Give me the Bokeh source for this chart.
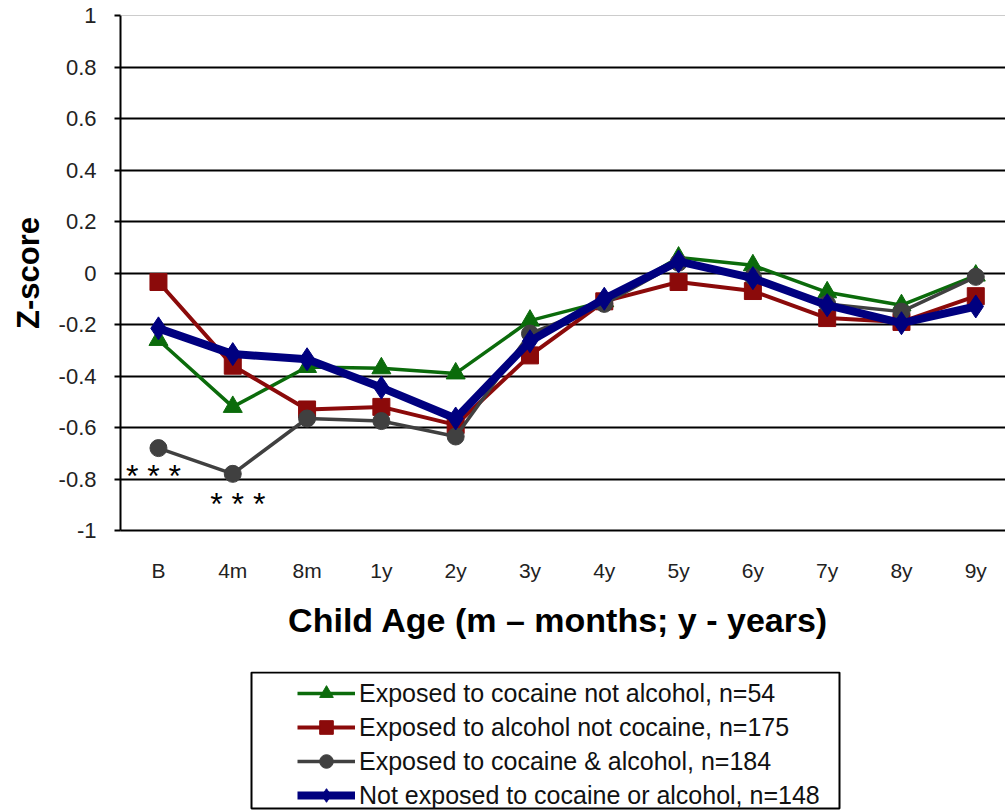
from bokeh.plotting import figure
from bokeh.layouts import column
from bokeh.models import (Range1d, FixedTicker, CustomJSTickFormatter, Legend, LegendItem,
                          Span, ColumnDataSource, BoxAnnotation)
from bokeh.core.properties import value
from bokeh.embed import file_html
from bokeh.resources import INLINE

ages = ["B", "4m", "8m", "1y", "2y", "3y", "4y", "5y", "6y", "7y", "8y", "9y"]
coc_only = [-0.26, -0.52, -0.365, -0.37, -0.39, -0.185, -0.11, 0.06, 0.03, -0.075, -0.125, -0.01]
alc_only = [-0.035, -0.36, -0.53, -0.52, -0.59, -0.32, -0.11, -0.035, -0.07, -0.175, -0.19, -0.09]
coc_alc = [-0.68, -0.78, -0.565, -0.575, -0.635, -0.235, -0.12, 0.04, -0.015, -0.12, -0.15, -0.015]
none_exp = [-0.215, -0.315, -0.335, -0.445, -0.565, -0.265, -0.1, 0.045, -0.02, -0.125, -0.195, -0.13]
y_ticks = [-1, -0.8, -0.6, -0.4, -0.2, 0, 0.2, 0.4, 0.6, 0.8, 1]
sig_ages = ["B", "4m"]
sig_text = "* * *"

series = [
    ("Exposed to cocaine not alcohol, n=54", coc_only, "#0b6b0b", "triangle", 19, 3.5, 17),
    ("Exposed to alcohol not cocaine, n=175", alc_only, "#8b0a0a", "square", 17, 4, 15),
    ("Exposed to cocaine & alcohol, n=184", coc_alc, "#404040", "circle", 17, 3.5, 15),
    ("Not exposed to cocaine or alcohol, n=148", none_exp, "#00007f", "diamond", 23, 8, 18),
]

FONT = "Liberation Sans"
xs = list(range(len(ages)))

p = figure(frame_width=885, frame_height=515, output_backend="svg", toolbar_location=None,
           x_range=Range1d(-0.511, 11.40), y_range=Range1d(-1, 1),
           min_border_left=120, min_border_right=0, min_border_top=15, min_border_bottom=130,
           background_fill_color="white", border_fill_color="white")
p.outline_line_color = None

# axes
p.xaxis.ticker = FixedTicker(ticks=xs)
p.xaxis.major_label_overrides = {i: a for i, a in enumerate(ages)}
p.xaxis.major_tick_line_color = None
p.xaxis.minor_tick_line_color = None
p.xaxis.axis_line_color = "black"
p.xaxis.axis_line_width = 2
p.xaxis.major_label_standoff = 22
p.xaxis.major_label_text_font = FONT
p.xaxis.major_label_text_font_size = "21px"
p.xaxis.major_label_text_color = "#222222"
p.xaxis.axis_label = "Child Age  (m \u2013 months; y - years)"
p.xaxis.axis_label_text_font = FONT
p.xaxis.axis_label_text_font_size = "34px"
p.xaxis.axis_label_text_font_style = "bold"
p.xaxis.axis_label_text_color = "black"
p.xaxis.axis_label_standoff = 16

p.yaxis.ticker = FixedTicker(ticks=y_ticks)
p.yaxis.formatter = CustomJSTickFormatter(code="return String(Number(tick.toFixed(1)));")
p.yaxis.minor_tick_line_color = None
p.yaxis.major_tick_in = 0
p.yaxis.major_tick_out = 6
p.yaxis.major_tick_line_width = 2
p.yaxis.major_tick_line_color = "black"
p.yaxis.axis_line_color = "black"
p.yaxis.axis_line_width = 2
p.yaxis.major_label_standoff = 18
p.yaxis.major_label_text_font = FONT
p.yaxis.major_label_text_font_size = "22px"
p.yaxis.major_label_text_color = "#222222"
p.yaxis.axis_label = "Z-score"
p.yaxis.axis_label_text_font = FONT
p.yaxis.axis_label_text_font_size = "31px"
p.yaxis.axis_label_text_font_style = "bold"
p.yaxis.axis_label_text_color = "black"
p.yaxis.axis_label_standoff = 10

p.xgrid.grid_line_color = None
p.ygrid.ticker = FixedTicker(ticks=y_ticks[1:-1])
p.ygrid.grid_line_color = "black"
p.ygrid.grid_line_width = 2
p.add_layout(Span(location=y_ticks[-1], dimension="width", line_color="#9a9a9a", line_width=1))

for label, vals, color, marker, size, lw, lsize in series:
    src = ColumnDataSource(dict(x=xs, y=vals))
    p.line("x", "y", source=src, line_color=color, line_width=lw, line_join="round")
    p.scatter("x", "y", source=src, marker=marker, size=size, fill_color=color,
              line_color=color)

# significance marks under the cocaine & alcohol series
sig_src = ColumnDataSource(dict(
    x=[ages.index(a) for a in sig_ages],
    y=[coc_alc[ages.index(a)] for a in sig_ages],
    t=[sig_text] * len(sig_ages),
    yoff=[28, 30],
    xoff=[-5, 5],
))
p.text("x", "y", text="t", source=sig_src, text_font=value(FONT), text_font_size="32px",
       text_align="center", text_baseline="middle", y_offset="yoff", x_offset="xoff",
       text_color="black")

# legend panel: same frame alignment as the chart, pixel-unit ranges
lg = figure(frame_width=885, frame_height=140, output_backend="svg", toolbar_location=None,
            x_range=Range1d(0, 885), y_range=Range1d(0, 140),
            min_border_left=120, min_border_right=0, min_border_top=11, min_border_bottom=0,
            background_fill_color="white", border_fill_color="white")
lg.axis.visible = False
lg.grid.visible = False
lg.outline_line_color = None
lg.extra_x_ranges = {"off": Range1d(100, 101)}
lg.extra_y_ranges = {"off": Range1d(100, 101)}

lg.add_layout(BoxAnnotation(left=131, right=719, top=139, bottom=3,
                            fill_alpha=0, line_color="black", line_alpha=1, line_width=2))

items = []
for label, vals, color, marker, size, lw, lsize in series:
    src = ColumnDataSource(dict(x=xs, y=vals))
    ln = lg.line("x", "y", source=src, line_color=color, line_width=lw,
                 x_range_name="off", y_range_name="off")
    mk = lg.scatter("x", "y", source=src, marker=marker, size=lsize, fill_color=color,
                    line_color=color, x_range_name="off", y_range_name="off")
    items.append(LegendItem(label=label, renderers=[ln, mk]))

legend = Legend(items=items, location=(177, -1), orientation="vertical",
                label_text_font=FONT, label_text_font_size="25px", label_text_color="#111111",
                glyph_width=58, glyph_height=34, label_height=34, label_standoff=4,
                spacing=0, padding=0, margin=0,
                border_line_color=None, background_fill_alpha=0)
lg.add_layout(legend)

open("out.html", "w").write(file_html(column(p, lg, spacing=0), INLINE))
